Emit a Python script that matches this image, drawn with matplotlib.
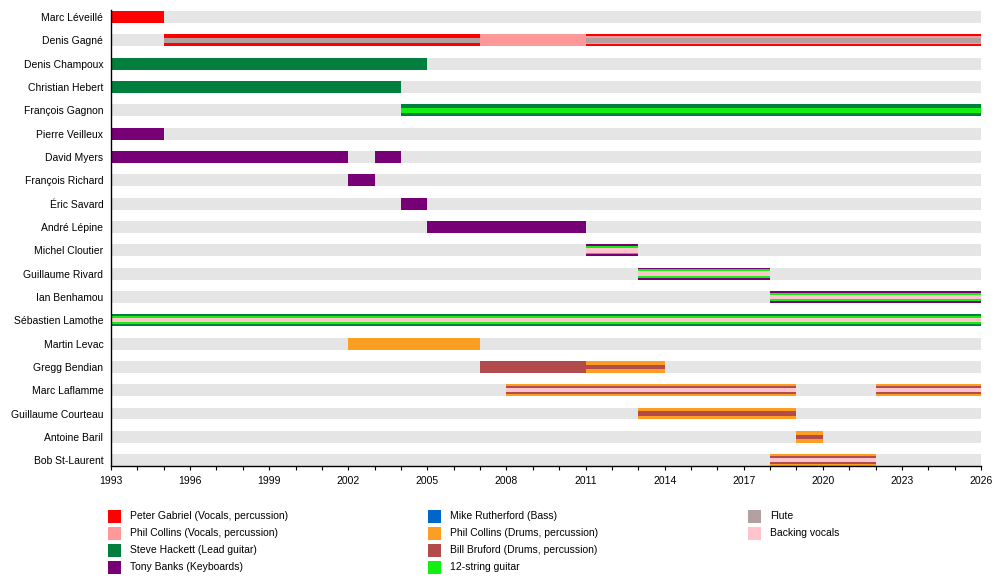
import matplotlib.pyplot as plt
from matplotlib.patches import Rectangle

plt.rcParams['font.family'] = ['Liberation Sans', 'DejaVu Sans']

# membres, de haut en bas
members = ["Marc Léveillé", "Denis Gagné", "Denis Champoux", "Christian Hebert",
           "François Gagnon", "Pierre Veilleux", "David Myers", "François Richard",
           "Éric Savard", "André Lépine", "Michel Cloutier", "Guillaume Rivard",
           "Ian Benhamou", "Sébastien Lamothe", "Martin Levac", "Gregg Bendian",
           "Marc Laflamme", "Guillaume Courteau", "Antoine Baril", "Bob St-Laurent"]

# rôles (légende)
role_keys = ["pg", "pcv", "sh", "tb", "mr", "pcd", "bb", "g12", "fl", "bv"]
role_labels = ["Peter Gabriel (Vocals, percussion)", "Phil Collins (Vocals, percussion)",
               "Steve Hackett (Lead guitar)", "Tony Banks (Keyboards)",
               "Mike Rutherford (Bass)", "Phil Collins (Drums, percussion)",
               "Bill Bruford (Drums, percussion)", "12-string guitar",
               "Flute", "Backing vocals"]
role_colors = ["#ff0000", "#ff9999", "#007f3f", "#770077", "#0066cc",
               "#fb9e22", "#b24c4c", "#11f011", "#b3a0a0", "#ffc4cc"]

# périodes : (membre, début, fin, rôles de l'extérieur vers l'intérieur)
spans = [
    (0, 1993, 1995, ["pg"]),
    (1, 1995, 2007, ["pg", "fl"]),
    (1, 2007, 2011, ["pcv"]),
    (1, 2011, 2026, ["pg", "pcv", "fl"]),
    (2, 1993, 2005, ["sh"]),
    (3, 1993, 2004, ["sh"]),
    (4, 2004, 2026, ["sh", "g12"]),
    (5, 1993, 1995, ["tb"]),
    (6, 1993, 2002, ["tb"]),
    (6, 2003, 2004, ["tb"]),
    (7, 2002, 2003, ["tb"]),
    (8, 2004, 2005, ["tb"]),
    (9, 2005, 2011, ["tb"]),
    (10, 2011, 2013, ["tb", "g12", "bv"]),
    (11, 2013, 2018, ["tb", "g12", "bv"]),
    (12, 2018, 2026, ["tb", "g12", "bv"]),
    (13, 1993, 2026, ["sh", "g12", "bv"]),
    (14, 2002, 2007, ["pcd"]),
    (15, 2007, 2011, ["bb"]),
    (15, 2011, 2014, ["pcd", "bb"]),
    (16, 2008, 2019, ["pcd", "bb", "bv"]),
    (16, 2022, 2026, ["pcd", "bb", "bv"]),
    (17, 2013, 2019, ["pcd", "bb"]),
    (18, 2019, 2020, ["pcd", "bb"]),
    (19, 2018, 2022, ["pcd", "bb", "bv"]),
]

year_start, year_end = 1993, 2026
color_of = dict(zip(role_keys, role_colors))

fig = plt.figure(figsize=(10, 5.86), dpi=100)
ax = fig.add_axes([0.111, 0.2048, 0.870, 0.778])

bar_h = 0.51
ys = list(range(len(members)))

# fonds gris
ax.barh(ys, year_end - year_start, left=year_start, height=bar_h,
        color="#e5e5e5", linewidth=0)

# barres par rôle, empilées au centre
for m, start, end, rl in spans:
    n = len(rl)
    for k, r in enumerate(rl):
        frac = 1.0 if n == 1 else 1.0 - k * 0.62 / (n - 1)
        ax.barh(m, end - start, left=start, height=bar_h * frac,
                color=color_of[r], linewidth=0)

ax.set_xlim(year_start, year_end)
ax.set_ylim(19.25, -0.3)
ax.set_yticks(ys)
ax.set_yticklabels(members, fontsize=7.5)
ax.tick_params(axis='y', length=0, pad=5.5)
ax.set_xticks(range(year_start, year_end + 1, 3))
ax.set_xticks(range(year_start, year_end + 1), minor=True)
ax.tick_params(axis='x', which='both', length=3, width=0.8, labelsize=7.5, pad=4)
for s in ['top', 'right']:
    ax.spines[s].set_visible(False)
for s in ['left', 'bottom']:
    ax.spines[s].set_linewidth(1)

# légende manuelle sur 3 colonnes
col_x = [108, 428, 748]
row_y = [516, 533, 550, 567]
W, H = 1000, 586
for i, (lab, col) in enumerate(zip(role_labels, role_colors)):
    c, r = i // 4, i % 4
    x0 = col_x[c] / W
    yc = 1 - row_y[r] / H
    fig.add_artist(Rectangle((x0, yc - 6.5 / H), 13 / W, 13 / H,
                             transform=fig.transFigure, color=col, linewidth=0))
    fig.text((col_x[c] + 22) / W, yc, lab, fontsize=7.5, va='center', ha='left')

fig.savefig("out.png", dpi=100)
